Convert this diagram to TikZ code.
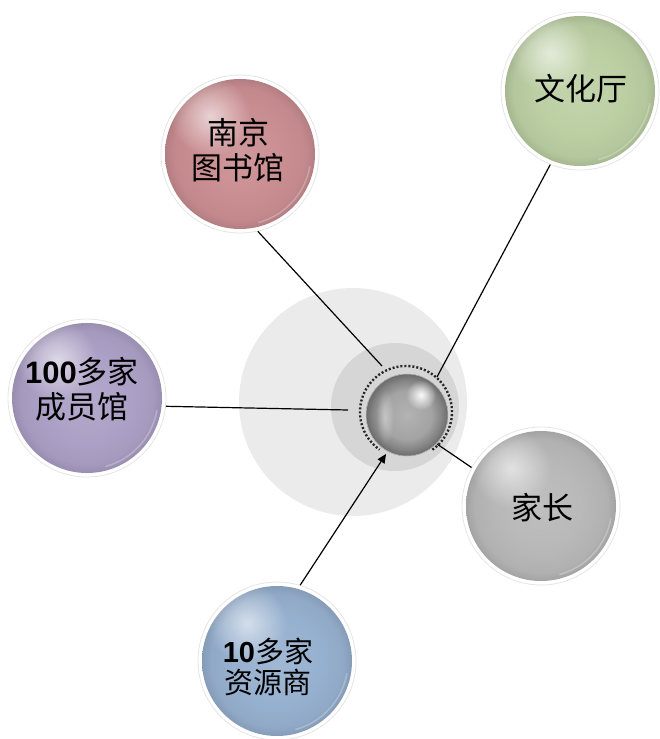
\documentclass[tikz,border=0pt]{standalone}
\usepackage{fontspec}
\setmainfont{Liberation Sans}
\newfontfamily\cjk{Noto Sans CJK SC}
\usetikzlibrary{arrows.meta,fadings}

\definecolor{cred}{RGB}{202,142,146}
\definecolor{cgreen}{RGB}{188,207,163}
\definecolor{cpurple}{RGB}{172,160,198}
\definecolor{cgray}{RGB}{184,184,184}
\definecolor{cblue}{RGB}{150,176,207}
\colorlet{bc}{gray}

\pgfdeclareradialshading[bc]{ballbase}{\pgfpoint{0bp}{0bp}}{%
  color(0bp)=(bc!90!white); color(14bp)=(bc); color(21bp)=(bc!96!black);
  color(24bp)=(bc!88!black); color(25bp)=(bc!84!black); color(50bp)=(bc!84!black)}
\pgfdeclareradialshading{metalbase}{\pgfpoint{0bp}{0bp}}{%
  color(0bp)=(black!30); color(15bp)=(black!36); color(21bp)=(black!48);
  color(25bp)=(black!58); color(50bp)=(black!58)}
\tikzfading[name=glow, inner color=transparent!0, outer color=transparent!100]

\tikzset{
  ball/.style={circle, minimum size=158pt, inner sep=0pt, fill=white,
    draw=black!10, line width=0.8pt,
    path picture={
      \colorlet{bc}{#1}
      \fill[shading=ballbase] (path picture bounding box.center) circle (75);
      \fill[white, opacity=0.6, path fading=glow]
        ([shift={(-30,-38)}]path picture bounding box.center) circle (40);
      \draw[white, opacity=0.25, line width=1.6pt]
        ([shift={(10:71)}]path picture bounding box.center) arc[start angle=10, end angle=75, radius=71];
    }},
  balltext/.style={font=\cjk\fontsize{31pt}{35pt}\selectfont, align=center, inner sep=0pt},
  link/.style={line width=1.2pt, black},
  sphere/.style={circle, minimum size=82pt, inner sep=0pt, draw=black!25, line width=0.6pt,
    path picture={
      \fill[shading=metalbase] (path picture bounding box.center) circle (41);
      \fill[white, opacity=0.35, path fading=glow]
        ([shift={(-22,2)}]path picture bounding box.center) ellipse (9 and 28);
      \fill[white, opacity=0.95, path fading=glow]
        ([shift={(14,-20)}]path picture bounding box.center) circle (15);
    }},
  dotring/.style={line width=2.4pt, dash pattern=on 2pt off 2pt, black!85},
}

\begin{document}
\begin{tikzpicture}[x=1pt,y=-1pt]
\useasboundingbox (0,0) rectangle (660,739);

% background discs
\fill[black!8] (353,402) circle (114);
\fill[black!16] (395,407) circle (64);

% balls
\node[ball=cred]    (nj) at (240,154) {};
\node[ball=cgreen]  (wh) at (580,91)  {};
\node[ball=cpurple] (cy) at (87,398)  {};
\node[ball=cgray]   (jz) at (541,506) {};
\node[ball=cblue]   (zy) at (277,661) {};

% texts
\node[balltext] (njt) at (238,150) {南京\\图书馆};
\node[balltext] (wht) at (581,89)  {文化厅};
\node[balltext] (cyt) at (82,389)  {{\fontspec{Liberation Sans}\bfseries 100}多家\\成员馆};
\node[balltext, font=\cjk\fontsize{29pt}{31pt}\selectfont] (zyt) at (268,667) {{\fontspec{Liberation Sans}\bfseries 10}多家\\资源商};
\node[balltext] (jzt) at (542,508) {家长};

% connector end points
\coordinate (e1) at (382,366);
\coordinate (e2) at (437,377);
\coordinate (e3) at (348,410);
\coordinate (e4) at (437,444);
\coordinate (e5) at (386,454);

\draw[link] (nj.-77) -- (e1);
\draw[link] (wh.-112) -- (e2);
\draw[link] (cy.-6.6) -- (e3);
\draw[link] (jz.151) -- (e4);
\draw[link, -{Triangle[length=9pt,width=8pt]}] (zy.73) -- (e5);

% dotted ring
\draw[dotring] (406,412) ++(55:46) arc[start angle=55, end angle=-235, radius=46];

% center sphere
\node[sphere] (ctr) at (407,415) {};
\end{tikzpicture}
\end{document}
